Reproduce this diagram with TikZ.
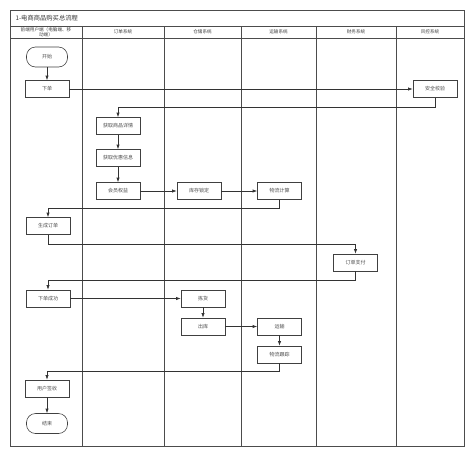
\documentclass[tikz,border=0pt]{standalone}
\usepackage{fontspec}
\setmainfont{Noto Sans CJK SC}
\usetikzlibrary{arrows.meta}
\begin{document}
\begin{tikzpicture}[x=1pt,y=-1pt,
  frame/.style={draw=black!70,line width=0.9pt},
  proc/.style={draw=black!75,line width=0.6pt,fill=white,minimum width=44pt,minimum height=17pt,inner sep=0pt,font=\fontsize{5pt}{6pt}\selectfont,text=black!70},
  term/.style={draw=black!75,line width=0.6pt,fill=white,rounded corners=9pt,minimum width=41pt,minimum height=20pt,inner sep=0pt,font=\fontsize{5pt}{6pt}\selectfont,text=black!70},
  hdr/.style={font=\fontsize{4.6pt}{5.4pt}\selectfont,text=black!75,align=center},
  conn/.style={draw=black!80,line width=0.6pt,-{Latex[length=4.5pt,width=3.2pt]}}]
\useasboundingbox (0,0) rectangle (474,456);
% frame
\draw[frame] (10,10) rectangle (464,446);
\draw[frame] (10,26) -- (464,26);
\draw[frame] (10,38.5) -- (464,38.5);
\foreach \x in {82,164,241,316,396} \draw[frame] (\x,26) -- (\x,446);
\node[anchor=west,font=\fontsize{6.3pt}{7pt}\selectfont,text=black!80] (title) at (12,18) {1-电商商品购买总流程};
\node[hdr] (h1) at (46,32.2) {前端用户端（电脑端、移\\动端）};
\node[hdr] (h2) at (123,32.2) {订单系统};
\node[hdr] (h3) at (202.5,32.2) {仓储系统};
\node[hdr] (h4) at (278.5,32.2) {运输系统};
\node[hdr] (h5) at (356,32.2) {财务系统};
\node[hdr] (h6) at (430,32.2) {风控系统};
% nodes
\node[term] (start) at (47,57) {开始};
\node[proc] (order) at (47,89) {下单};
\node[proc] (sec) at (435,89) {安全校验};
\node[proc] (detail) at (118,126) {获取商品详情};
\node[proc] (coupon) at (118,158) {获取优惠信息};
\node[proc] (member) at (118,191) {会员权益};
\node[proc] (stock) at (199,191) {库存锁定};
\node[proc] (calc) at (279.5,191) {物流计算};
\node[proc] (gen) at (48,226) {生成订单};
\node[proc] (pay) at (355.5,262.5) {订单支付};
\node[proc] (ok) at (48,298.5) {下单成功};
\node[proc] (pick) at (203,298.5) {拣货};
\node[proc] (out) at (203,326.5) {出库};
\node[proc] (ship) at (279.5,326.5) {运输};
\node[proc] (track) at (279.5,354.5) {物流跟踪};
\node[proc] (sign) at (47,388.5) {用户签收};
\node[term] (end) at (47,423.5) {结束};
% connectors
\draw[conn] (start) -- (order);
\draw[conn] (order) -- (sec);
\draw[conn] (sec.south) |- (118,107.5) -- (detail.north);
\draw[conn] (detail) -- (coupon);
\draw[conn] (coupon) -- (member);
\draw[conn] (member) -- (stock);
\draw[conn] (stock) -- (calc);
\draw[conn] (calc.south) |- (48,208.5) -- (gen.north);
\draw[conn] (gen.south) |- (355.5,244) -- (pay.north);
\draw[conn] (pay.south) |- (48,280.5) -- (ok.north);
\draw[conn] (ok) -- (pick);
\draw[conn] (pick) -- (out);
\draw[conn] (out) -- (ship);
\draw[conn] (ship) -- (track);
\draw[conn] (track.south) |- (47,371.5) -- (sign.north);
\draw[conn] (sign) -- (end);
\end{tikzpicture}
\end{document}
